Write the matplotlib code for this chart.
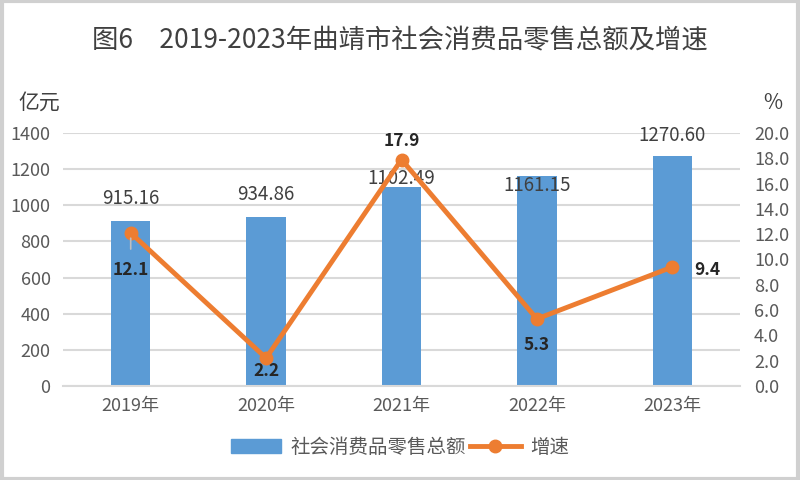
import matplotlib
matplotlib.use("Agg")
import matplotlib.pyplot as plt
from matplotlib.patches import Rectangle
from matplotlib.lines import Line2D

plt.rcParams['font.family'] = ['Noto Sans CJK SC', 'DejaVu Sans']

categories = ['2019年', '2020年', '2021年', '2022年', '2023年']
sales = [915.16, 934.86, 1102.49, 1161.15, 1270.60]
growth = [12.1, 2.2, 17.9, 5.3, 9.4]
sales_labels = ['915.16', '934.86', '1102.49', '1161.15', '1270.60']
growth_labels = ['12.1', '2.2', '17.9', '5.3', '9.4']
left_ticks = [0, 200, 400, 600, 800, 1000, 1200, 1400]
right_ticks = [0, 2, 4, 6, 8, 10, 12, 14, 16, 18, 20]

# label offsets (points)
sales_off = [(0, 16), (0, 16), (0, 6), (0, -7), (0, 15)]
growth_off = [(0, -27), (0, -9), (0, 13), (0, -19), (25, -2)]

BLUE = '#5B9BD5'
ORANGE = '#ED7D31'
GRID = '#D9D9D9'
TXT = '#595959'

fig = plt.figure(figsize=(8, 4.8), dpi=100)
ax = fig.add_axes([0.07875, 0.196, 0.84625, 0.527])
x = list(range(len(categories)))

ax.bar(x, sales, width=0.29, color=BLUE, zorder=2)
ax.set_xlim(-0.5, len(categories) - 0.5)
ax.set_ylim(0, 1400)
ax.set_yticks(left_ticks)
ax.set_yticklabels([str(t) for t in left_ticks])
ax.set_xticks(x)
ax.set_xticklabels(categories)
ax.grid(axis='y', color=GRID, linewidth=1.5, zorder=0)
ax.set_axisbelow(True)
for s in ['top', 'right', 'left']:
    ax.spines[s].set_visible(False)
ax.spines['bottom'].set_color(GRID)
ax.spines['bottom'].set_linewidth(1.5)
ax.tick_params(axis='both', length=0, labelsize=13, colors=TXT)
ax.tick_params(axis='y', pad=9)
ax.tick_params(axis='x', pad=8)

for xi, v, lab, off in zip(x, sales, sales_labels, sales_off):
    ax.annotate(lab, (xi, v), xytext=off, textcoords='offset points',
                ha='center', va='center', fontsize=13.5, color='#404040', zorder=5)

ax2 = ax.twinx()
ax2.set_ylim(0, 20)
ax2.set_yticks(right_ticks)
ax2.set_yticklabels(['%.1f' % t for t in right_ticks])
for s in ['top', 'right', 'left', 'bottom']:
    ax2.spines[s].set_visible(False)
ax2.tick_params(axis='y', length=0, labelsize=13, colors=TXT, pad=10)
ax2.plot(x, growth, color=ORANGE, linewidth=3.5, marker='o', markersize=9,
         zorder=3, solid_capstyle='round')

# leader line for 2019 label
ax2.annotate('', xy=(x[0], growth[0] - 0.2), xytext=(x[0], growth[0] - 1.5),
             arrowprops=dict(arrowstyle='-', color='#BFBFBF', lw=1.2))

for xi, v, lab, off in zip(x, growth, growth_labels, growth_off):
    ax2.annotate(lab, (xi, v), xytext=off, textcoords='offset points',
                 ha='center', va='center', fontsize=12.5, fontweight='bold',
                 color='#262626', zorder=6)

fig.text(0.5, 0.917, '图6　2019-2023年曲靖市社会消费品零售总额及增速',
         ha='center', va='center', fontsize=19, color='#404040')
fig.text(0.049, 0.787, '亿元', ha='center', va='center', fontsize=15, color='#404040')
fig.text(0.966, 0.785, '%', ha='center', va='center', fontsize=15, color='#404040')

handles = [Rectangle((0, 0), 1, 1, color=BLUE),
           Line2D([0], [0], color=ORANGE, linewidth=3.5, marker='o', markersize=9)]
fig.legend(handles, ['社会消费品零售总额', '增速'], loc='center',
           bbox_to_anchor=(0.5, 0.068), ncol=2, frameon=False, fontsize=14,
           labelcolor=TXT, handlelength=2.6, columnspacing=0.2, handletextpad=0.5)

fig.add_artist(Rectangle((0.002, 0.003), 0.996, 0.994, transform=fig.transFigure,
                         fill=False, edgecolor='#D0D0D0', linewidth=3))

fig.savefig('out.png', dpi=100, facecolor='white')
